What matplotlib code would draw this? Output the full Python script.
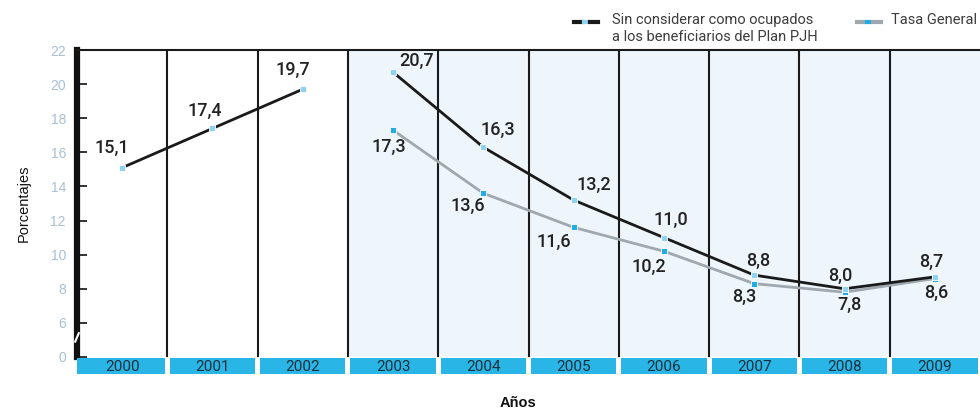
import matplotlib.pyplot as plt
from matplotlib.lines import Line2D
import numpy as np

years = ["2000", "2001", "2002", "2003", "2004", "2005", "2006", "2007", "2008", "2009"]
# Sin considerar como ocupados a los beneficiarios del Plan PJH
sin_pjh = [15.1, 17.4, 19.7, 20.7, 16.3, 13.2, 11.0, 8.8, 8.0, 8.7]
# Tasa General (desde 2003)
tasa_years = ["2003", "2004", "2005", "2006", "2007", "2008", "2009"]
tasa_general = [17.3, 13.6, 11.6, 10.2, 8.3, 7.8, 8.6]

ytick_vals = [4, 6, 8, 10, 12, 14, 16, 18, 20, 22]
ytick_labels = ["0", "6", "8", "10", "12", "14", "16", "18", "20", "22"]

# label offsets in pixels (dx, dy)
off_sin = [(-10, 20), (-8, 18), (-10, 19), (24, 11), (14, 17), (20, 15), (7, 18), (4, 14), (-4, 13), (-4, 15)]
off_tasa = [(-4, -17), (-16, -13), (-20, -15), (-15, -16), (-10, -13), (5, -13), (1, -14)]

LABEL_FONT = ["Roboto", "DejaVu Sans"]
NARROW = ["Liberation Sans Narrow", "Liberation Sans", "DejaVu Sans"]

fig = plt.figure(figsize=(9.8, 4.09), dpi=100)
ax = fig.add_axes([77 / 980, 1 - 357 / 409, 903 / 980, 307 / 409])

x = np.arange(len(years))
xt = np.array([years.index(y) for y in tasa_years])

ax.set_xlim(-0.5, len(years) - 0.5)
ax.set_ylim(4, 22)
ax.axvspan(2.5, len(years) - 0.5, color="#eef6fb", zorder=0)
for b in np.arange(0.5, len(years) - 0.5, 1):
    ax.axvline(b, color="#1a1a1a", lw=1.5, zorder=1)

# series: 2000-2002 and 2003-2009 are not joined
ax.plot(x[:3], sin_pjh[:3], color="#1a1a1a", lw=2.0, zorder=3)
ax.plot(x[3:], sin_pjh[3:], color="#1a1a1a", lw=2.0, zorder=3)
ax.plot(xt, tasa_general, color="#9ea8ae", lw=2.0, zorder=2)
ax.scatter(x, sin_pjh, marker="s", s=22, color="#8fd3f2", edgecolor="white", lw=0.6, zorder=5)
ax.scatter(xt, tasa_general, marker="s", s=22, color="#21ace6", edgecolor="white", lw=0.6, zorder=4)

for xi, v, (dx, dy) in zip(x, sin_pjh, off_sin):
    ax.annotate(f"{v:.1f}".replace(".", ","), (xi, v), xytext=(dx, dy), textcoords="offset pixels",
                ha="center", va="center", fontsize=13, fontweight="medium", color="#222222",
                family=LABEL_FONT, zorder=6)
for xi, v, (dx, dy) in zip(xt, tasa_general, off_tasa):
    ax.annotate(f"{v:.1f}".replace(".", ","), (xi, v), xytext=(dx, dy), textcoords="offset pixels",
                ha="center", va="center", fontsize=13, fontweight="medium", color="#222222",
                family=LABEL_FONT, zorder=6)

# frame
for s in ["right", "bottom"]:
    ax.spines[s].set_visible(False)
ax.spines["top"].set_color("#1a1a1a")
ax.spines["top"].set_linewidth(1.5)
ax.spines["left"].set_color("#111111")
ax.spines["left"].set_linewidth(4.5)
ax.set_xticks([])
ax.set_yticks(ytick_vals)
ax.set_yticklabels(ytick_labels, family=NARROW, fontsize=10, color="#a9c0d4")
ax.tick_params(axis="y", direction="in", length=7, width=1.2, color="#111111", pad=8)
# axis break between 0 and 6
ax.plot([-0.52, -0.48], [4.9, 5.4], color="white", lw=1.5, transform=ax.transData, clip_on=False, zorder=10)

ax.set_ylabel("Porcentajes", family=NARROW, fontsize=10.5, color="#111111", labelpad=14)

# year band under the plot
band = fig.add_axes([77 / 980, 1 - 374 / 409, 903 / 980, 16 / 409])
band.set_xlim(-0.5, len(years) - 0.5)
band.set_ylim(0, 1)
band.bar(x, 1, width=0.945, color="#29b5e6", align="center")
band.bar([-0.5], 1, width=0.06, color="#29b5e6", align="center")
for xi, yr in zip(x, years):
    band.text(xi, 0.45, yr, ha="center", va="center", fontsize=11, color="#1d2f3a", family=LABEL_FONT)
band.axis("off")

fig.text(518 / 980, 1 - 403 / 409, "Años", ha="center", va="center", fontsize=10.5,
         fontweight="bold", color="#111111", family=NARROW)

# legend
def legend_key(x0, y0, c_line, c_mid):
    fig.add_artist(Line2D([x0 / 980, (x0 + 8) / 980], [y0, y0], color=c_line, lw=3))
    fig.add_artist(Line2D([(x0 + 10) / 980, (x0 + 14) / 980], [y0, y0], color=c_mid, lw=3))
    fig.add_artist(Line2D([(x0 + 16) / 980, (x0 + 24) / 980], [y0, y0], color=c_line, lw=3))

legend_key(574, 1 - 22 / 409, "#1a1a1a", "#8fd3f2")
fig.text(612 / 980, 1 - 20 / 409, "Sin considerar como ocupados", fontsize=10.5, color="#3c3c3c",
         va="center", family=LABEL_FONT)
fig.text(612 / 980, 1 - 37 / 409, "a los beneficiarios del Plan PJH", fontsize=10.5, color="#3c3c3c",
         va="center", family=LABEL_FONT)
legend_key(857, 1 - 22 / 409, "#9ea8ae", "#21ace6")
fig.text(891 / 980, 1 - 20 / 409, "Tasa General", fontsize=10.5, color="#3c3c3c",
         va="center", family=LABEL_FONT)

fig.savefig("out.png", dpi=100)
